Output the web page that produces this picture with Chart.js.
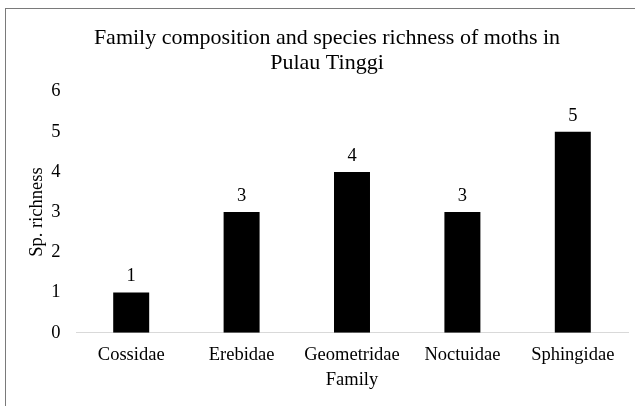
<!DOCTYPE html>
<html>
<head>
<meta charset="utf-8">
<script src="https://cdn.jsdelivr.net/npm/chart.js@4"></script>
<style>
  html, body { margin: 0; padding: 0; background: #fff; overflow: hidden; }
  #wrap { position: relative; width: 635px; height: 406px; }
  #frame { position: absolute; left: 5px; top: 8px; width: 660px; height: 430px; border: 1.5px solid #7a7a7a; box-sizing: border-box; pointer-events: none; }
  canvas { position: absolute; left: 0; top: 0; }
</style>
</head>
<body>
<div id="wrap">
  <canvas id="c" width="635" height="406"></canvas>
  <div id="frame"></div>
</div>
<script>
const categories = ["Cossidae", "Erebidae", "Geometridae", "Noctuidae", "Sphingidae"];
const richness = [1, 3, 4, 3, 5];
const titleLines = ["Family composition and species richness of moths in", "Pulau Tinggi"];
const xTitle = "Family";
const yTitle = "Sp. richness";

const FONT = '"Liberation Serif", "Times New Roman", serif';
const AX = 18.5;

const valueLabels = {
  id: 'valueLabels',
  afterDatasetsDraw(chart) {
    const ctx = chart.ctx;
    const meta = chart.getDatasetMeta(0);
    ctx.save();
    ctx.font = AX + 'px ' + FONT;
    ctx.fillStyle = '#000';
    ctx.textAlign = 'center';
    ctx.textBaseline = 'alphabetic';
    meta.data.forEach((bar, i) => {
      ctx.fillText(String(chart.data.datasets[0].data[i]), bar.x, bar.y - 11);
    });
    ctx.restore();
  }
};

new Chart(document.getElementById('c'), {
  type: 'bar',
  data: {
    labels: categories,
    datasets: [{
      data: richness,
      backgroundColor: '#000',
      borderWidth: 0,
      barPercentage: 0.326,
      categoryPercentage: 1.0
    }]
  },
  options: {
    responsive: false,
    animation: false,
    devicePixelRatio: 1,
    layout: { padding: { left: 26, right: 7, top: 0, bottom: 0 } },
    plugins: {
      legend: { display: false },
      tooltip: { enabled: false },
      title: {
        display: true,
        text: titleLines,
        color: '#000',
        font: { family: FONT, size: 22, weight: 'normal', lineHeight: 1.136 },
        padding: { top: 26, bottom: 15.5 }
      }
    },
    scales: {
      x: {
        grid: { display: false, drawTicks: false },
        border: { display: true, color: '#d9d9d9', width: 1 },
        ticks: { color: '#000', font: { family: FONT, size: AX }, padding: 11, maxRotation: 0 },
        title: { display: true, text: xTitle, color: '#000', font: { family: FONT, size: AX }, padding: { top: 0, bottom: 15 } },
        afterFit(scale) { scale.height = 73.3; }
      },
      y: {
        min: 0, max: 6,
        grid: { display: false, drawTicks: false },
        border: { display: false },
        ticks: { stepSize: 1, color: '#000', font: { family: FONT, size: AX }, padding: 15.5 },
        title: { display: true, text: yTitle, color: '#000', font: { family: FONT, size: AX }, padding: { top: 0, bottom: 0 } },
        afterFit(scale) { scale.width = 50; }
      }
    }
  },
  plugins: [valueLabels]
});
</script>
</body>
</html>
